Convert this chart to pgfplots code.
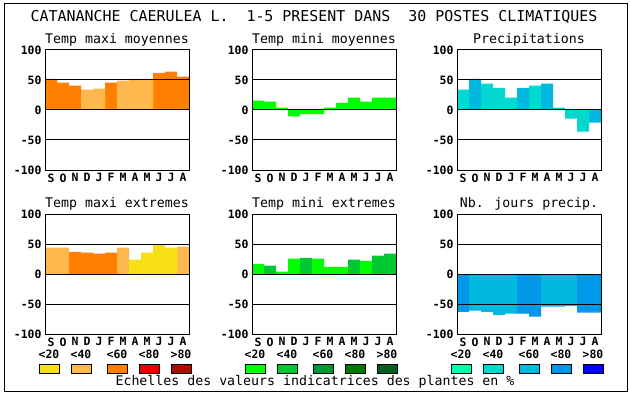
\documentclass[border=0pt]{standalone}
\usepackage{fontspec}
\setmainfont{DejaVu Sans Mono}
\usepackage{pgfplots}
\pgfplotsset{compat=1.18}
\definecolor{cY}{HTML}{F8E018}
\definecolor{cLO}{HTML}{FFB84D}
\definecolor{cO}{HTML}{FF8000}
\definecolor{cR}{HTML}{E80000}
\definecolor{cDR}{HTML}{A81000}
\definecolor{g1}{HTML}{00FF00}
\definecolor{g2}{HTML}{00C832}
\definecolor{g3}{HTML}{009830}
\definecolor{g4}{HTML}{007800}
\definecolor{g5}{HTML}{006020}
\definecolor{b1}{HTML}{00FFB0}
\definecolor{b2}{HTML}{00D8D0}
\definecolor{b3}{HTML}{00B8E0}
\definecolor{b4}{HTML}{0098E8}
\definecolor{b5}{HTML}{0000FF}
\pgfplotsset{
  panel/.style={
    width=144bp, height=120bp, scale only axis,
    xmin=0.5, xmax=12.5, ymin=-100, ymax=100,
    ytick={-100,-50,0,50,100},
    xtick={1,...,12},
    xticklabels={S,O,N,D,J,F,M,A,M,J,J,A},
    major tick length=0pt,
    ymajorgrids, grid style={black, line width=1bp},
    axis line style={line width=1bp},
    axis on top,
    tick label style={font=\bfseries\fontsize{11.5}{11.5}\selectfont},
    /pgf/number format/assume math mode=true,
    title style={font=\fontsize{13.3}{14}\selectfont, at={(0.5,1)}, anchor=base, yshift=1bp, inner sep=0pt},
  },
  bars/.style={ybar, bar width=12bp, bar shift=0pt, draw=none, fill=#1},
}
\begin{document}
\begin{tikzpicture}[x=1bp,y=1bp]
\useasboundingbox (0,0) rectangle (630,394);
\draw[line width=1bp] (4,3) rectangle (627,390);
\node[font=\fontsize{15}{15}\selectfont] at (314,377) {CATANANCHE CAERULEA L.\ \ 1-5 PRESENT DANS\ \ 30 POSTES CLIMATIQUES};

% Panel 1
\begin{axis}[panel, at={(45bp,224bp)}, anchor=south west, title={Temp maxi moyennes}]
\addplot[bars=cO] coordinates {(1,52)(2,45.5)(3,40.5)(6,45.5)(10,62)(11,64)(12,55.5)};
\addplot[bars=cLO] coordinates {(4,34)(5,35.5)(7,49)(8,52)(9,52)};
\end{axis}
% Panel 2
\begin{axis}[panel, at={(252bp,224bp)}, anchor=south west, title={Temp mini moyennes}]
\addplot[bars=g1] coordinates {(1,15.5)(2,14)(3,4)(4,-10.5)(5,-7)(6,-7)(7,4)(8,12)(9,20.5)(10,14)(11,20.5)(12,20.5)};
\end{axis}
% Panel 3
\begin{axis}[panel, at={(457bp,224bp)}, anchor=south west, title={Precipitations}]
\addplot[bars=b2] coordinates {(1,34)(3,44)(4,37)(5,20.5)(7,40.5)(9,4)(10,-14.5)(11,-36)};
\addplot[bars=b3] coordinates {(2,52)(6,37)(8,44)(12,-21)};
\end{axis}
% Panel 4
\begin{axis}[panel, at={(45bp,60bp)}, anchor=south west, title={Temp maxi extremes}]
\addplot[bars=cLO] coordinates {(1,44)(2,44)(7,44)(12,45.5)};
\addplot[bars=cO] coordinates {(3,37)(4,35.5)(5,34)(6,35.5)};
\addplot[bars=cY] coordinates {(8,24)(9,35.5)(10,49)(11,44)};
\end{axis}
% Panel 5
\begin{axis}[panel, at={(252bp,60bp)}, anchor=south west, title={Temp mini extremes}]
\addplot[bars=g1] coordinates {(1,17)(3,4)(4,25.5)(6,25.5)(7,12)(8,12)(10,22)};
\addplot[bars=g2] coordinates {(2,14)(5,27)(9,24)(11,30.5)(12,34)};
\end{axis}
% Panel 6
\begin{axis}[panel, at={(457bp,60bp)}, anchor=south west, title={Nb. jours precip.}]
\addplot[bars=b4] coordinates {(1,-63)(6,-66)(7,-71)(11,-64.5)(12,-64.5)};
\addplot[bars=b3] coordinates {(2,-61)(3,-63)(4,-68)(5,-66)(8,-54.5)(9,-54.5)(10,-53)};
\end{axis}

% Legend scales
\foreach \x/\c/\l in {39/cY/{<20},71/cLO/{<40},107/cO/{<60},139/cR/{<80},171/cDR/{>80},
                       245/g1/{<20},277/g2/{<40},313/g3/{<60},345/g4/{<80},377/g5/{>80},
                       451/b1/{<20},483/b2/{<40},519/b3/{<60},551/b4/{<80},583/b5/{>80}} {
  \draw[fill=\c, line width=0.8bp] (\x,21) rectangle ++(20,9);
  \node[font=\bfseries\fontsize{11.5}{11.5}\selectfont] at (\x+10,40) {\l};
}
\node[font=\fontsize{13.3}{14}\selectfont] at (315,12) {Echelles des valeurs indicatrices des plantes en \%};
\end{tikzpicture}
\end{document}
